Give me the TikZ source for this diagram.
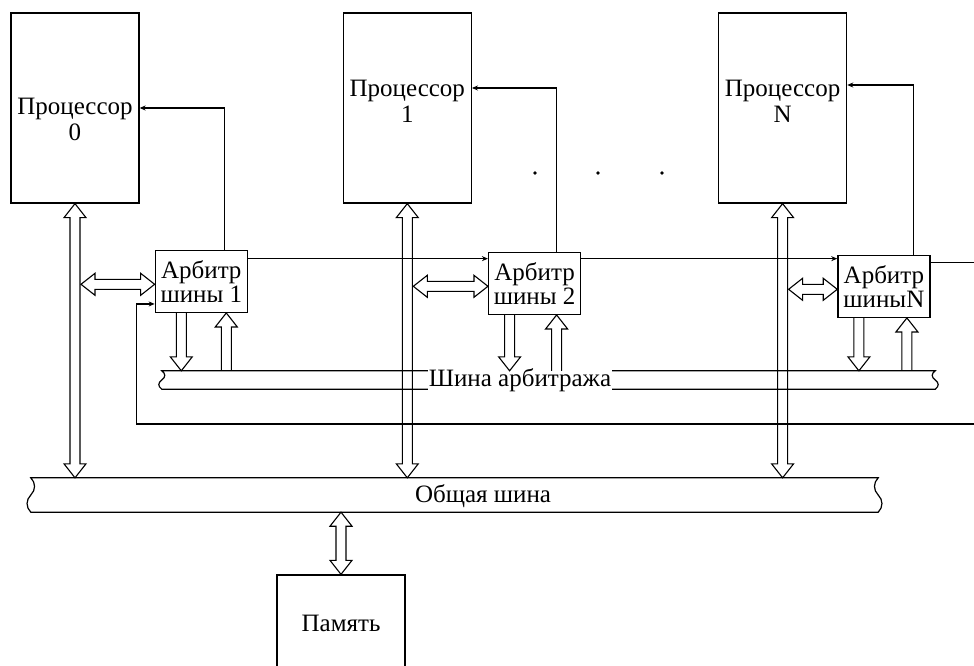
\documentclass[tikz,border=0pt]{standalone}
\usepackage{fontspec}
\setmainfont{Liberation Serif}
\usetikzlibrary{arrows.meta,positioning,calc}

\begin{document}
\begin{tikzpicture}[x=1pt,y=-1pt,
  font=\fontsize{25}{26}\selectfont,
  proc/.style={draw,line width=1.3pt,minimum width=128pt,minimum height=190pt},
  arb/.style={draw,line width=1.3pt,minimum width=92pt,minimum height=62pt,inner sep=2pt,align=center,font=\fontsize{25}{24}\selectfont},
  lbl/.style={align=center,inner sep=1pt},
  bus/.style={inner sep=0pt},
  busline/.style={line width=1.2pt},
  sig/.style={line width=1.1pt,-{Stealth[length=6pt,width=5pt]}},
  wire/.style={line width=1.1pt},
  % hollow arrow, heads at both ends
  hollow2/.style={line width=1.1pt,line join=miter,to path={
    -- ($(\tikztostart)!14pt!(\tikztotarget)!11pt!90:(\tikztotarget)$)
    -- ($(\tikztostart)!14pt!(\tikztotarget)!5pt!90:(\tikztotarget)$)
    -- ($(\tikztotarget)!14pt!(\tikztostart)!5pt!-90:(\tikztostart)$)
    -- ($(\tikztotarget)!14pt!(\tikztostart)!11pt!-90:(\tikztostart)$)
    -- (\tikztotarget)
    -- ($(\tikztotarget)!14pt!(\tikztostart)!11pt!90:(\tikztostart)$)
    -- ($(\tikztotarget)!14pt!(\tikztostart)!5pt!90:(\tikztostart)$)
    -- ($(\tikztostart)!14pt!(\tikztotarget)!5pt!-90:(\tikztotarget)$)
    -- ($(\tikztostart)!14pt!(\tikztotarget)!11pt!-90:(\tikztotarget)$)
    -- cycle}},
  % hollow arrow, head at the target
  hollow1/.style={line width=1.1pt,line join=miter,to path={
    ($(\tikztostart)!5pt!90:(\tikztotarget)$)
    -- ($(\tikztotarget)!14pt!(\tikztostart)!5pt!-90:(\tikztostart)$)
    -- ($(\tikztotarget)!14pt!(\tikztostart)!11pt!-90:(\tikztostart)$)
    -- (\tikztotarget)
    -- ($(\tikztotarget)!14pt!(\tikztostart)!11pt!90:(\tikztostart)$)
    -- ($(\tikztotarget)!14pt!(\tikztostart)!5pt!90:(\tikztostart)$)
    -- ($(\tikztostart)!5pt!-90:(\tikztotarget)$)}},
  ellipsis/.style={circle,fill,inner sep=1.4pt}
]
\useasboundingbox (0,0) rectangle (974,666);
\clip (0,0) rectangle (974,666);

% processors
\node[proc] (p0) at (75,108) {};
\node[proc,right=203pt of p0] (p1) {};
\node[proc,right=246pt of p1] (pN) {};
\node[lbl] (p0l) at ([yshift=-11pt]p0.center) {Процессор\\0};
\node[lbl] (p1l) at ([yshift=7pt]p1.center) {Процессор\\1};
\node[lbl] (pNl) at ([yshift=7pt]pN.center) {Процессор\\N};
\foreach \x [count=\i] in {535,598,662}
  \node[ellipsis] (d\i) at (\x,173) {};

% bus arbiters
\node[arb,below right=46pt and 15pt of p0] (a1) {Арбитр\\шины 1};
\node[arb,below right=48pt and 16pt of p1] (a2) {Арбитр\\шины 2};
\node[arb,below right=51pt and -10pt of pN] (aN) {Арбитр\\шиныN};

% buses and memory
\node[bus,minimum width=847pt,minimum height=34pt] (gbus) at (454.5,495) {};
\node[bus,minimum width=773pt,minimum height=18pt] (abus) at (548.5,380) {};
\node[proc,minimum height=96pt] (mem) at (341,623) {Память};

% bus outlines
\draw[busline] (gbus.north west) -- (gbus.north east)
  .. controls +(-5pt,-5pt) and +(-5pt,5pt) .. (gbus.east)
  .. controls +(5pt,-5pt) and +(5pt,5pt) .. (gbus.south east)
  -- (gbus.south west)
  .. controls +(-5pt,5pt) and +(-5pt,-5pt) .. (gbus.west)
  .. controls +(5pt,5pt) and +(5pt,-5pt) .. cycle;
\draw[busline] (abus.north west) -- (abus.north east)
  .. controls +(-4pt,-3pt) and +(-4pt,3pt) .. (abus.east)
  .. controls +(4pt,-3pt) and +(4pt,3pt) .. (abus.south east)
  -- (abus.south west)
  .. controls +(-4pt,3pt) and +(-4pt,-3pt) .. (abus.west)
  .. controls +(4pt,3pt) and +(4pt,-3pt) .. cycle;
\node[lbl] (gbusl) at (483,496) {Общая шина};
\node[lbl,fill=white] (abusl) at (520,380) {Шина арбитража};

% data paths
\foreach \p in {p0,p1,pN}
  \draw[hollow2] (\p.south) to (\p.south |- gbus.north);
\draw[hollow2] (mem.north |- gbus.south) to (mem.north);
\foreach \p/\a in {p0/a1,p1/a2,pN/aN}
  \draw[hollow2] ($(\p.south |- \a.west)+(6pt,-3pt)$) to ($(\a.west)+(0pt,-3pt)$);

% arbiter <-> arbitration bus
\foreach \a/\dn/\up in {a1/-20/25,a2/-25/22,aN/-25/23} {
  \coordinate (t) at ($(\a.south)+(\dn pt,0pt)$);
  \coordinate (u) at ($(\a.south)+(\up pt,0pt)$);
  \draw[hollow1] (t) to (t |- abus.north);
  \draw[hollow1] (u |- abus.north) to (u);
}

% grant lines
\draw[sig] ([xshift=23pt]a1.north) |- (p0.east);
\draw[sig] ([xshift=22pt]a2.north) |- ([yshift=20pt]p1.east);
\draw[sig] ([xshift=30pt]aN.north) |- ([yshift=23pt]pN.east);

% daisy chain
\coordinate (edge) at (974,0);
\coordinate (c1) at ([yshift=-9pt]a1.north east);
\coordinate (c2) at ([yshift=-7pt]a2.north east);
\coordinate (c3) at ([yshift=-8pt]aN.north east);
\coordinate (c4) at ([yshift=9pt]a1.south west);
\coordinate (fb) at (974,424);
\draw[sig] (c1) -- (c1 -| a2.west);
\draw[sig] (c2) -- (c2 -| aN.west);
\draw[wire] (c3) -- (c3 -| edge);
\draw[sig] (fb) -| ([xshift=-18pt]c4) -- (c4);
\end{tikzpicture}
\end{document}
